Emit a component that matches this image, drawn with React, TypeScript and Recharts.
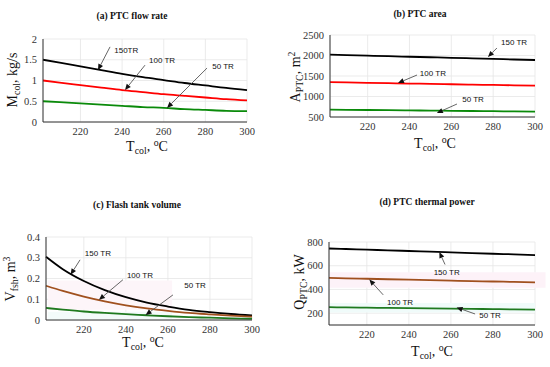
import React from 'react';
import {
  CartesianGrid,
  Line,
  LineChart,
  ReferenceArea,
  ReferenceDot,
  ReferenceLine,
  XAxis,
  YAxis,
} from 'recharts';

// collector outlet temperature, degC
const temps = [202, 210, 220, 230, 240, 250, 260, 270, 280, 290, 300];
const tempTicks = [220, 240, 260, 280, 300];

// (a) PTC flow rate, kg/s
const flow150 = [1.5, 1.43, 1.34, 1.25, 1.16, 1.08, 1.01, 0.94, 0.88, 0.82, 0.77];
const flow100 = [1.0, 0.95, 0.89, 0.83, 0.77, 0.72, 0.67, 0.63, 0.59, 0.55, 0.52];
const flow50 = [0.5, 0.48, 0.45, 0.42, 0.39, 0.36, 0.34, 0.31, 0.29, 0.27, 0.26];
const flowTicks = [0, 0.5, 1, 1.5, 2];

// (b) PTC area, m2
const area150 = [2020, 2010, 1997, 1983, 1970, 1957, 1944, 1930, 1917, 1903, 1890];
const area100 = [1350, 1343, 1334, 1325, 1316, 1308, 1299, 1290, 1282, 1273, 1265];
const area50 = [680, 676, 671, 666, 661, 656, 651, 646, 641, 637, 632];
const areaTicks = [500, 1000, 1500, 2000, 2500];

// (c) flash tank volume, m3
const vol150 = [0.305, 0.245, 0.188, 0.144, 0.11, 0.084, 0.065, 0.049, 0.038, 0.029, 0.022];
const vol100 = [0.165, 0.14, 0.113, 0.09, 0.071, 0.056, 0.044, 0.034, 0.027, 0.021, 0.016];
const vol50 = [0.058, 0.05, 0.041, 0.034, 0.028, 0.023, 0.018, 0.014, 0.011, 0.008, 0.006];
const volTicks = [0, 0.1, 0.2, 0.3, 0.4];

// (d) PTC thermal power, kW
const power150 = [745, 741, 735, 730, 724, 718, 713, 707, 701, 696, 690];
const power100 = [497, 494, 490, 486, 482, 478, 474, 470, 467, 463, 460];
const power50 = [250, 248, 246, 244, 242, 240, 238, 236, 234, 232, 230];
const powerTicks = [200, 400, 600, 800];

type Note = { text: string; tx: number; ty: number; x1: number; y1: number; x2: number; y2: number };

const flowNotes: Note[] = [
  { text: '150TR', tx: 242, ty: 1.73, x1: 234.2, y1: 1.81, x2: 228.4, y2: 1.25 },
  { text: '100 TR', tx: 259.2, ty: 1.47, x1: 251, y1: 1.37, x2: 241.4, y2: 0.77 },
  { text: '50 TR', tx: 288.5, ty: 1.33, x1: 280.8, y1: 1.3, x2: 261.6, y2: 0.34 },
];
const areaNotes: Note[] = [
  { text: '150 TR', tx: 290, ty: 2305, x1: 281.8, y1: 2183, x2: 277.5, y2: 1963 },
  { text: '100 TR', tx: 251.2, ty: 1549, x1: 243.6, y1: 1524, x2: 234.5, y2: 1329 },
  { text: '50 TR', tx: 270.4, ty: 915, x1: 262.7, y1: 817, x2: 253.1, y2: 598 },
];
const volNotes: Note[] = [
  { text: '150 TR', tx: 226.7, ty: 0.32, x1: 218.2, y1: 0.29, x2: 213.7, y2: 0.218 },
  { text: '100 TR', tx: 246.7, ty: 0.213, x1: 238.6, y1: 0.194, x2: 227.2, y2: 0.097 },
  { text: '50 TR', tx: 272.9, ty: 0.164, x1: 262.4, y1: 0.121, x2: 249.4, y2: 0.024 },
];
const powerNotes: Note[] = [
  { text: '150 TR', tx: 258, ty: 542, x1: 257.2, y1: 610, x2: 254.5, y2: 715 },
  { text: '100 TR', tx: 235.8, ty: 289, x1: 227.8, y1: 354, x2: 221.2, y2: 483 },
  { text: '50 TR', tx: 278.6, ty: 176, x1: 271.5, y1: 193, x2: 262.7, y2: 248 },
];

const serif = '"Liberation Serif", "Times New Roman", serif';
const sans = '"Liberation Sans", Arial, sans-serif';

function Arrow(props: any) {
  const { x1, y1, x2, y2 } = props;
  const ang = Math.atan2(y2 - y1, x2 - x1);
  const len = 6;
  const w = 2.6;
  const bx = x2 - len * Math.cos(ang);
  const by = y2 - len * Math.sin(ang);
  const px = -Math.sin(ang) * w;
  const py = Math.cos(ang) * w;
  return (
    <g>
      <line x1={x1} y1={y1} x2={bx} y2={by} stroke="#555" strokeWidth={0.9} />
      <polygon points={`${x2},${y2} ${bx + px},${by + py} ${bx - px},${by - py}`} fill="#111" />
    </g>
  );
}

const XTick = (p: any) => (
  <text x={p.x} y={p.y} dy="0.71em" textAnchor="middle" fontFamily={serif} fontSize={10.5} fill="#333">
    {p.payload.value}
  </text>
);

const YTick = (p: any) => (
  <text x={p.x} y={p.y} dy="0.35em" textAnchor="end" fontFamily={serif} fontSize={10.5} fill="#333">
    {p.payload.value}
  </text>
);

interface PanelProps {
  left: number;
  top: number;
  plot: { x0: number; x1: number; y0: number; y1: number };
  series: { key: string; values: number[]; color: string }[];
  yDomain: [number, number];
  yTicks: number[];
  notes: Note[];
  bands?: { x1: number; x2: number; y1: number; y2: number; color: string }[];
}

function Panel({ left, top, plot, series, yDomain, yTicks, notes, bands }: PanelProps) {
  const W = 275;
  const H = 187;
  const data = temps.map((t, i) => {
    const row: Record<string, number> = { t };
    series.forEach((s) => {
      row[s.key] = s.values[i];
    });
    return row;
  });
  const xAxisH = 20;
  return (
    <div style={{ position: 'absolute', left, top }}>
      <LineChart
        width={W}
        height={H}
        data={data}
        margin={{ top: plot.y0, right: W - plot.x1, bottom: H - plot.y1 - xAxisH, left: 0 }}
      >
        {bands?.map((b, i) => (
          <ReferenceArea key={i} x1={b.x1} x2={b.x2} y1={b.y1} y2={b.y2} fill={b.color} fillOpacity={1} stroke="none" ifOverflow="visible" />
        ))}
        <CartesianGrid stroke="#e6e6e6" strokeWidth={0.8} />
        <XAxis
          dataKey="t"
          type="number"
          domain={[202, 300]}
          ticks={tempTicks}
          interval={0}
          height={xAxisH}
          stroke="#333"
          tickSize={0}
          tickMargin={6}
          tick={XTick}
        />
        <YAxis
          type="number"
          domain={yDomain}
          ticks={yTicks}
          interval={0}
          width={plot.x0}
          stroke="#333"
          tickSize={0}
          tickMargin={6}
          allowDataOverflow
          tick={YTick}
        />
        {series.map((s) => (
          <Line
            key={s.key}
            dataKey={s.key}
            type="monotone"
            stroke={s.color}
            strokeWidth={1.8}
            dot={false}
            isAnimationActive={false}
          />
        ))}
        {notes.map((n) => (
          <ReferenceLine
            key={'l' + n.text}
            segment={[{ x: n.x1, y: n.y1 }, { x: n.x2, y: n.y2 }]}
            ifOverflow="visible"
            shape={Arrow}
          />
        ))}
        {notes.map((n) => (
          <ReferenceDot
            key={'t' + n.text}
            x={n.tx}
            y={n.ty}
            ifOverflow="visible"
            shape={(p: any) => (
              <text x={p.cx} y={p.cy} textAnchor="middle" dominantBaseline="central" fontFamily={sans} fontSize={8} fill="#111">
                {n.text}
              </text>
            )}
          />
        ))}
      </LineChart>
    </div>
  );
}

function Txt({ x, y, size, bold, rotate, children }: any) {
  return (
    <div
      style={{
        position: 'absolute',
        left: x,
        top: y,
        transform: `translate(-50%, -50%)${rotate ? ' rotate(-90deg)' : ''}`,
        fontFamily: serif,
        fontSize: size,
        fontWeight: bold ? 'bold' : 'normal',
        whiteSpace: 'nowrap',
        color: '#111',
        lineHeight: 1,
      }}
    >
      {children}
    </div>
  );
}

const sub = { fontSize: '70%', verticalAlign: '-0.35em' };
const sup = { fontSize: '70%', verticalAlign: '0.5em' };

const XLabel = () => (
  <>
    T<span style={sub}>col</span>, <span style={sup}>o</span>C
  </>
);

export default function App() {
  return (
    <div style={{ position: 'absolute', left: 0, top: 0, width: 550, height: 367, background: '#fff', overflow: 'hidden' }}>
      <Panel
        left={0}
        top={0}
        plot={{ x0: 43, x1: 247, y0: 39, y1: 122 }}
        yDomain={[0, 2]}
        yTicks={flowTicks}
        notes={flowNotes}
        series={[
          { key: 's150', values: flow150, color: '#000000' },
          { key: 's100', values: flow100, color: '#ff0000' },
          { key: 's50', values: flow50, color: '#0a8a0a' },
        ]}
      />
      <Panel
        left={275}
        top={0}
        plot={{ x0: 55, x1: 260, y0: 35, y1: 117 }}
        yDomain={[500, 2500]}
        yTicks={areaTicks}
        notes={areaNotes}
        series={[
          { key: 's150', values: area150, color: '#000000' },
          { key: 's100', values: area100, color: '#ff0000' },
          { key: 's50', values: area50, color: '#0a8a0a' },
        ]}
      />
      <Panel
        left={0}
        top={180}
        plot={{ x0: 46, x1: 252, y0: 57, y1: 140 }}
        yDomain={[0, 0.4]}
        yTicks={volTicks}
        notes={volNotes}
        bands={[
          { x1: 203, x2: 262, y1: 0.05, y2: 0.19, color: '#fdf5f9' },
          { x1: 203, x2: 262, y1: 0.0, y2: 0.04, color: '#f3fbfa' },
        ]}
        series={[
          { key: 's150', values: vol150, color: '#000000' },
          { key: 's100', values: vol100, color: '#a0501e' },
          { key: 's50', values: vol50, color: '#1f7a1f' },
        ]}
      />
      <Panel
        left={275}
        top={180}
        plot={{ x0: 54, x1: 260, y0: 62, y1: 145 }}
        yDomain={[100, 800]}
        yTicks={powerTicks}
        notes={powerNotes}
        bands={[
          { x1: 202, x2: 305, y1: 415, y2: 545, color: '#fdf2f8' },
          { x1: 202, x2: 300, y1: 205, y2: 285, color: '#f0fbfa' },
        ]}
        series={[
          { key: 's150', values: power150, color: '#000000' },
          { key: 's100', values: power100, color: '#a0501e' },
          { key: 's50', values: power50, color: '#1f7a1f' },
        ]}
      />

      <Txt x={132} y={17} size={9.5} bold>(a) PTC flow rate</Txt>
      <Txt x={420} y={15} size={9.5} bold>(b) PTC area</Txt>
      <Txt x={137} y={206} size={9.5} bold>(c) Flash tank volume</Txt>
      <Txt x={427} y={203} size={9.5} bold>(d) PTC thermal power</Txt>

      <Txt x={14} y={80} size={14} rotate>
        M<span style={sub}>col</span>, kg/s
      </Txt>
      <Txt x={296} y={77} size={14} rotate>
        A<span style={sub}>PTC</span>, m<span style={sup}>2</span>
      </Txt>
      <Txt x={11} y={279} size={14} rotate>
        V<span style={sub}>fsh</span>, m<span style={sup}>3</span>
      </Txt>
      <Txt x={301} y={282} size={14} rotate>
        Q<span style={sub}>PTC</span>, kW
      </Txt>

      <Txt x={147} y={147} size={14}><XLabel /></Txt>
      <Txt x={435} y={144} size={14}><XLabel /></Txt>
      <Txt x={143} y={343} size={14}><XLabel /></Txt>
      <Txt x={432} y={352} size={14}><XLabel /></Txt>
    </div>
  );
}
